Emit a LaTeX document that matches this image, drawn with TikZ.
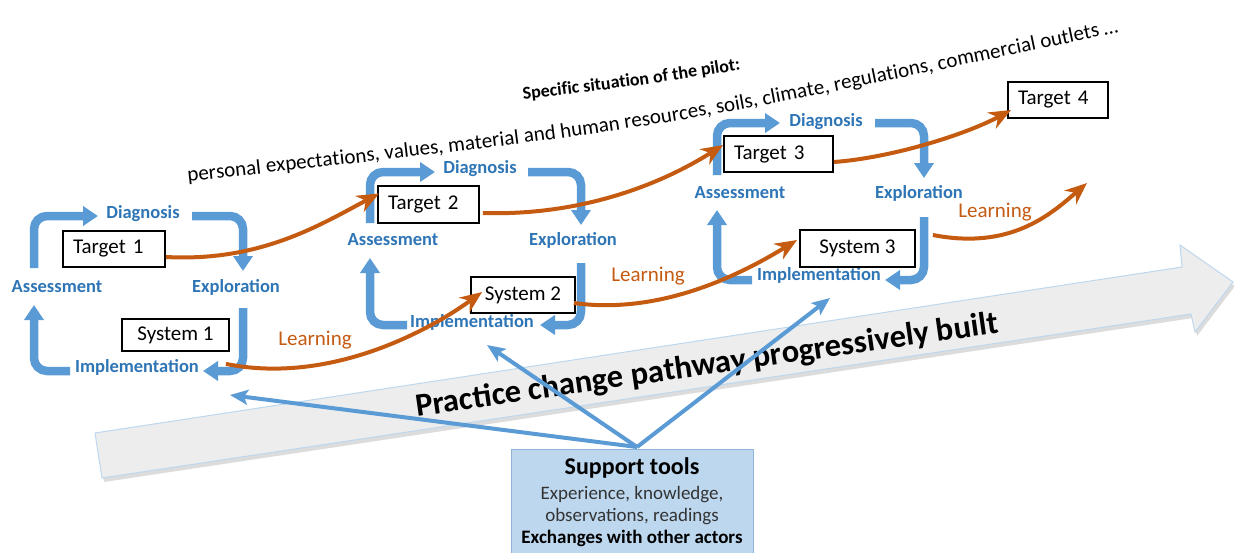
\documentclass[tikz,border=0pt]{standalone}
\usepackage{fontspec}
\setmainfont{Carlito}
\usetikzlibrary{arrows.meta,decorations.text}
\definecolor{cycblue}{HTML}{5B9BD5}
\definecolor{lblblue}{HTML}{2E75B6}
\definecolor{orng}{HTML}{C55A11}
\definecolor{supfill}{HTML}{BDD7EE}
\definecolor{supedge}{HTML}{8EB4DA}
\definecolor{arrgray}{HTML}{EDEDED}
\definecolor{arredge}{HTML}{BDD7EE}
\definecolor{txtgray}{HTML}{333333}
\newcommand\myfs[1]{\fontsize{#1}{#1}\selectfont}
\begin{document}
\begin{tikzpicture}[x=1pt,y=-1pt,
  cyc/.style={line width=8.5pt, draw=cycblue, rounded corners=13pt, -{Triangle[length=15pt,width=19pt]}},
  lbl/.style={font=\bfseries\myfs{18.5}, text=lblblue, inner sep=0pt},
  tbox/.style={draw=black, line width=1.8pt, fill=white, font=\myfs{21}, inner xsep=10pt, inner ysep=0pt, align=left},
  sbox/.style={draw=black, line width=1.8pt, fill=white, font=\myfs{21}, inner sep=0pt, align=center},
  learn/.style={draw=orng, line width=4pt, -{Stealth[length=22pt,width=18pt,inset=7pt]}},
  learnlbl/.style={text=orng, font=\myfs{21}, inner sep=0pt},
  suparr/.style={draw=cycblue, line width=4pt, -{Stealth[length=18pt,width=15pt,inset=4pt]}}
]
\useasboundingbox (0,0) rectangle (1234,552);

% big grey arrow
\fill[gray!55, opacity=0.5, shift={(2,4)}] (95,433) -- (1182,267) -- (1180,245) -- (1233,282) -- (1195,332) -- (1191,314) -- (102,478) -- cycle;
\filldraw[fill=arrgray, draw=arredge, line width=1pt] (95,433) -- (1182,267) -- (1180,245) -- (1233,282) -- (1195,332) -- (1191,314) -- (102,478) -- cycle;
\node[rotate=8.2, font=\bfseries\myfs{32.5}, inner sep=0pt] (pc) at (707,366) {Practice change pathway progressively built};

% curved top text
\path[decorate, decoration={text along path, text align=center, text={|\bfseries\myfs{18}|Specific situation of the pilot:}}] (518,100) .. controls (630,87) .. (746,69);
\path[decorate, decoration={text along path, text align=center, text={|\myfs{21}|personal expectations, values, material and human resources, soils, climate, regulations, commercial outlets …}}] (175,183) .. controls (650,131) .. (1130,30);

% cycle 1
\draw[cyc] (34,268) -- (34,216) -- (98,216);
\draw[cyc] (192,216) -- (243,216) -- (243,271);
\draw[cyc] (243,308) -- (243,371) -- (203,371);
\draw[cyc] (70,371) -- (34,371) -- (34,305);
\node[lbl] (d1) at (143,214) {Diagnosis};
\node[lbl] (e1) at (236,287) {Exploration};
\node[lbl] (i1) at (137,367) {Implementation};
\node[lbl] (a1) at (57,287) {Assessment};

% cycle 2
\draw[cyc] (370,223) -- (370,172) -- (435,172);
\draw[cyc] (528,172) -- (581,172) -- (581,225);
\draw[cyc] (581,263) -- (581,325) -- (540,325);
\draw[cyc] (407,325) -- (370,325) -- (370,258);
\node[lbl] (d2) at (480,169) {Diagnosis};
\node[lbl] (e2) at (573,240) {Exploration};
\node[lbl] (i2) at (472,322) {Implementation};
\node[lbl] (a2) at (393,240) {Assessment};

% cycle 3
\draw[cyc] (717,175) -- (717,123) -- (780,123);
\draw[cyc] (875,123) -- (924,123) -- (924,178);
\draw[cyc] (924,217) -- (924,280) -- (885,280);
\draw[cyc] (752,280) -- (717,280) -- (717,210);
\node[lbl] (d3) at (826,122) {Diagnosis};
\node[lbl] (e3) at (919,193) {Exploration};
\node[lbl] (i3) at (819,275) {Implementation};
\node[lbl] (a3) at (740,193) {Assessment};

% boxes
\node[tbox, minimum width=102, text width=82, minimum height=36] (t1) at (114,249) {Target 1};
\node[sbox, minimum width=107, minimum height=32] (s1) at (175.5,335) {System 1};
\node[tbox, minimum width=101, text width=81, minimum height=37] (t2) at (428.5,204.5) {Target 2};
\node[sbox, minimum width=104, minimum height=36] (s2) at (523,295) {System 2};
\node[tbox, minimum width=109, text width=89, minimum height=36] (t3) at (778.5,154) {Target 3};
\node[sbox, minimum width=115, minimum height=37] (s3) at (857.5,248.5) {System 3};
\node[tbox, minimum width=100, text width=80, minimum height=36] (t4) at (1058,100) {Target 4};

% learning arrows
\draw[learn] ([yshift=-8pt]t1.east) .. controls (260,262) and (320,225) .. ([xshift=2pt,yshift=11pt]t2.west);
\draw[learn] ([xshift=3pt,yshift=-8.5pt]t2.east) .. controls (580,216) and (660,185) .. ([yshift=9pt]t3.west);
\draw[learn] ([yshift=-8pt]t3.east) .. controls (890,158) and (965,135) .. ([xshift=4pt,yshift=-10pt]t4.west);
\draw[learn] ([xshift=-4pt,yshift=-12pt]s1.south east) .. controls (330,385) and (430,330) .. ([xshift=12pt,yshift=3pt]s2.west);
\draw[learn] ([xshift=-2pt,yshift=-8pt]s2.east) .. controls (660,315) and (740,275) .. ([xshift=-2pt,yshift=8.5pt]s3.west);
\coordinate (l3end) at (1087,183);
\draw[learn] ([xshift=17pt,yshift=13.5pt]s3.east) .. controls (1010,250) and (1050,215) .. (l3end);
\node[learnlbl] (L1) at (315,340) {Learning};
\node[learnlbl] (L2) at (648,276) {Learning};
\node[learnlbl] (L3) at (995,212) {Learning};

% support tools
\node[draw=supedge, fill=supfill, line width=1pt, anchor=north, minimum width=242, inner ysep=8pt, align=center, font=\fontsize{19}{22}\selectfont] (sup) at (632,449)
  {{\bfseries\myfs{24}Support tools}\\[3pt]{\color{txtgray}Experience, knowledge,}\\{\color{txtgray}observations, readings}\\{\bfseries Exchanges with other actors}};
\coordinate (apex) at (637,447);
\coordinate (g1) at (230,395);
\coordinate (g2) at (487,345);
\coordinate (g3) at (830,298);
\draw[suparr] (apex) -- (g1);
\draw[suparr] (apex) -- (g2);
\draw[suparr] (apex) -- (g3);
\end{tikzpicture}
\end{document}
